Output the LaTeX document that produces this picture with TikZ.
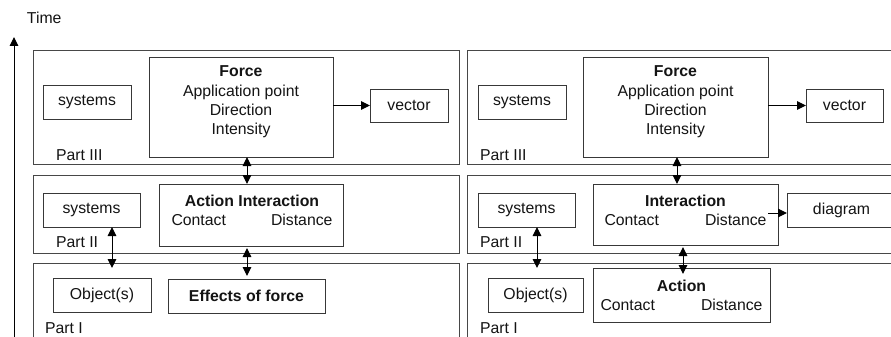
\documentclass[tikz,border=0pt]{standalone}
\usepackage{fontspec}
\setmainfont{Liberation Sans}
\usetikzlibrary{arrows.meta}
\begin{document}
\begin{tikzpicture}[x=1pt,y=-1pt,
  every node/.style={font=\fontsize{15.8}{19.2}\selectfont, text=black!92, inner sep=0pt, outer sep=0pt},
  frame/.style={draw=black!72, line width=0.9pt},
  box/.style={draw=black!78, line width=0.9pt, anchor=north west, align=center},
  lbl/.style={anchor=west},
  tip/.style={-{Triangle[length=9pt,width=8.5pt]}, line width=1pt, draw=black},
  dtip/.style={{Triangle[length=9pt,width=8.5pt]}-{Triangle[length=9pt,width=8.5pt]}, line width=1pt, draw=black}]

% canvas
\useasboundingbox (0,0) rectangle (891,337);
\fill[white] (0,0) rectangle (891,337);
\clip (0,0) rectangle (891,337);

% time axis
\coordinate (tBot) at (14,345);
\coordinate (tTop) at (14,37);
\draw[tip] (tBot) -- (tTop);
\node[anchor=west] (time) at (27,18) {Time};

% ---------------- left panel ----------------
\draw[frame] (33,50) rectangle (459,164);
\draw[frame] (33,175) rectangle (459,253);
\draw[frame] (33,345) -- (33,263) -- (459,263) -- (459,345);

% Part III
\node[box, minimum width=88pt, minimum height=34pt] (sysL3) at (43,85) {systems};
\node[box, minimum width=184pt, minimum height=100pt] (forceL) at (149,57) {};
\node[align=center] (forceLt) at (241,102) {\textbf{Force}\\Application point\\Direction\\Intensity};
\node[box, minimum width=78pt, minimum height=33pt] (vecL) at (370,89) {vector};
\draw[tip] (forceL.east |- vecL) -- (vecL.west);
\node[lbl] (p3L) at (56,155) {Part III};

% Part II
\node[box, minimum width=97pt, minimum height=34pt] (sysL2) at (43,193) {systems};
\node[box, minimum width=184pt, minimum height=62pt] (aiL) at (159,184) {};
\node[align=center] (aiLt) at (252,210) {\textbf{Action Interaction}\\\makebox[161pt]{Contact\hfill Distance}};
\node[lbl] (p2L) at (56,242) {Part II};
\draw[dtip] ([xshift=6pt]forceL.south) -- ([xshift=-4pt]aiL.north);
\coordinate (p1Ltop) at (112,268);
\draw[dtip] ([xshift=20.5pt]sysL2.south) -- (p1Ltop);

% Part I
\node[box, minimum width=98pt, minimum height=34pt] (objL) at (53,278) {Object(s)};
\node[box, minimum width=157pt, minimum height=34pt] (effL) at (168,279) {\textbf{Effects of force}};
\draw[dtip, shorten <=2pt, shorten >=3pt] ([xshift=-4pt]aiL.south) -- ([xshift=0.5pt]effL.north);
\node[lbl] (p1L) at (45,328) {Part I};

% ---------------- right panel ----------------
\draw[frame] (900,50) -- (467,50) -- (467,164) -- (900,164);
\draw[frame] (900,175) -- (467,175) -- (467,253) -- (900,253);
\draw[frame] (900,263) -- (467,263) -- (467,345);

% Part III
\node[box, minimum width=88pt, minimum height=34pt] (sysR3) at (478,85) {systems};
\node[box, minimum width=185pt, minimum height=100pt] (forceR) at (583,57) {};
\node[align=center] (forceRt) at (675.5,102) {\textbf{Force}\\Application point\\Direction\\Intensity};
\node[box, minimum width=77pt, minimum height=33pt] (vecR) at (806,89) {vector};
\draw[tip] (forceR.east |- vecR) -- (vecR.west);
\node[lbl] (p3R) at (480,155) {Part III};

% Part II
\node[box, minimum width=97pt, minimum height=34pt] (sysR2) at (478,193) {systems};
\node[box, minimum width=185pt, minimum height=61pt] (iaR) at (593,184) {};
\node[align=center] (iaRt) at (685.5,210) {\textbf{Interaction}\\\makebox[162pt]{Contact\hfill Distance}};
\node[box, minimum width=109pt, minimum height=34pt] (diagR) at (787,193) {diagram};
\coordinate (distEnd) at (768,213);
\draw[tip] (distEnd) -- (distEnd -| diagR.west);
\node[lbl] (p2R) at (480,242) {Part II};
\draw[dtip] ([xshift=1.5pt]forceR.south) -- ([xshift=-8.5pt]iaR.north);
\coordinate (p1Rtop) at (537,268);
\draw[dtip] ([xshift=10.5pt]sysR2.south) -- (p1Rtop);

% Part I
\node[box, minimum width=95pt, minimum height=34pt] (objR) at (488,278) {Object(s)};
\node[box, minimum width=177pt, minimum height=54pt] (actR) at (593,268) {\textbf{Action}\\\makebox[162pt]{Contact\hfill Distance}};
\draw[dtip, shorten <=2pt, shorten >=-6pt] ([xshift=-2.5pt]iaR.south) -- ([xshift=1.5pt]actR.north);
\node[lbl] (p1R) at (480,328) {Part I};
\end{tikzpicture}
\end{document}
